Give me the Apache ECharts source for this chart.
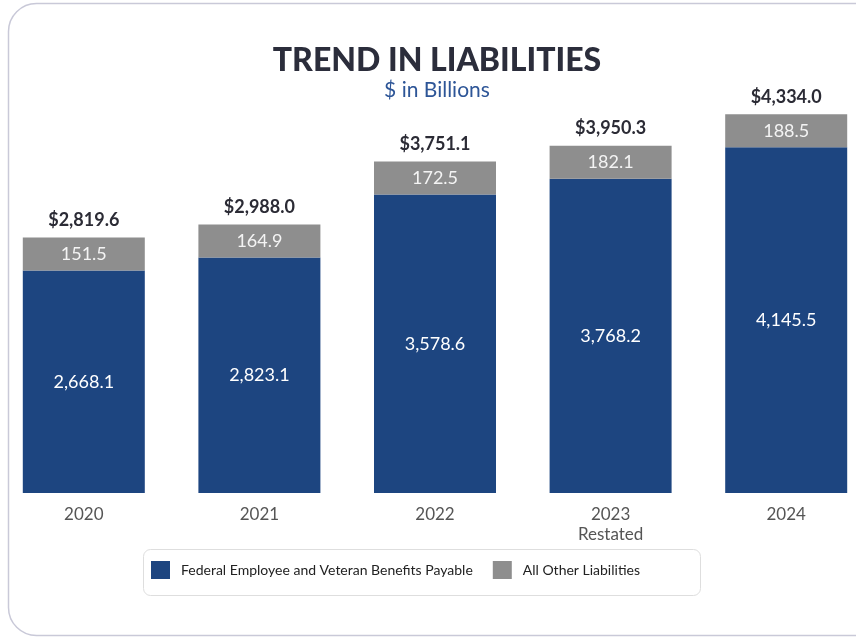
<!DOCTYPE html>
<html>
<head>
<meta charset="utf-8">
<script src="https://cdn.jsdelivr.net/npm/echarts@6/dist/echarts.min.js"></script>
<style>
  html, body { margin: 0; padding: 0; background: #fff; }
  #chart { width: 856px; height: 638px; }
</style>
</head>
<body>
<div id="chart"></div>
<script>
// values in $ billions
const years = ['2020', '2021', '2022', '2023\nRestated', '2024'];
const benefits = [2668.1, 2823.1, 3578.6, 3768.2, 4145.5];
const otherLiab = [151.5, 164.9, 172.5, 182.1, 188.5];
const totals = [2819.6, 2988.0, 3751.1, 3950.3, 4334.0];

const fmt = v => v.toLocaleString('en-US', { minimumFractionDigits: 1, maximumFractionDigits: 1 });

const chart = echarts.init(document.getElementById('chart'));
chart.setOption({
  backgroundColor: '#fff',
  textStyle: { fontFamily: 'Lato' },
  title: {
    text: 'TREND IN LIABILITIES',
    subtext: '$ in Billions',
    left: 432,
    textAlign: 'center',
    top: 40,
    itemGap: 3,
    textStyle: { fontFamily: 'Lato', fontSize: 32, fontWeight: 900, color: '#2b2d3b' },
    subtextStyle: { fontFamily: 'Lato', fontSize: 21, color: '#2d5597' }
  },
  graphic: [
    {
      type: 'rect',
      shape: { x: 8.5, y: 3.5, width: 880, height: 632, r: 28 },
      style: { fill: 'none', stroke: '#c9c9d8', lineWidth: 1.5 }
    },
    {
      type: 'rect',
      shape: { x: 143.5, y: 549.5, width: 557, height: 46, r: 7 },
      style: { fill: 'none', stroke: '#dedede', lineWidth: 1 }
    }
  ],
  legend: {
    left: 151,
    top: 561,
    padding: 0,
    icon: 'rect',
    itemWidth: 19,
    itemHeight: 18,
    itemGap: 20,
    textStyle: { fontFamily: 'Lato', fontSize: 14, color: '#222', padding: [0, 0, 0, 6] },
    data: ['Federal Employee and Veteran Benefits Payable', 'All Other Liabilities']
  },
  grid: { left: -4, width: 878, top: 76, bottom: 145, outerBoundsMode: 'none' },
  xAxis: {
    type: 'category',
    data: years,
    axisLine: { show: false },
    axisTick: { show: false },
    axisLabel: { color: '#555', fontSize: 17, margin: 12, lineHeight: 20, fontFamily: 'Lato' }
  },
  yAxis: { type: 'value', min: 0, max: 5000, show: false },
  series: [
    {
      name: 'Federal Employee and Veteran Benefits Payable',
      type: 'bar',
      stack: 'total',
      barWidth: 122,
      data: benefits,
      itemStyle: { color: '#1d4580' },
      label: {
        show: true,
        position: 'inside',
        color: '#fff',
        fontSize: 18,
        fontFamily: 'Lato',
        formatter: p => fmt(p.value)
      }
    },
    {
      name: 'All Other Liabilities',
      type: 'bar',
      stack: 'total',
      barWidth: 122,
      barMinHeight: 33,
      data: otherLiab,
      itemStyle: { color: '#8e8e8e' },
      label: {
        show: true,
        position: 'inside',
        offset: [0, -17],
        formatter: p => '{t|$' + fmt(totals[p.dataIndex]) + '}\n{v|' + fmt(p.value) + '}',
        rich: {
          t: { fontFamily: 'Lato', fontSize: 18, fontWeight: 'bold', color: '#2b2b35', lineHeight: 34 },
          v: { fontFamily: 'Lato', fontSize: 18, color: '#f4f4f4', lineHeight: 34 }
        }
      }
    }
  ]
});
</script>
</body>
</html>
